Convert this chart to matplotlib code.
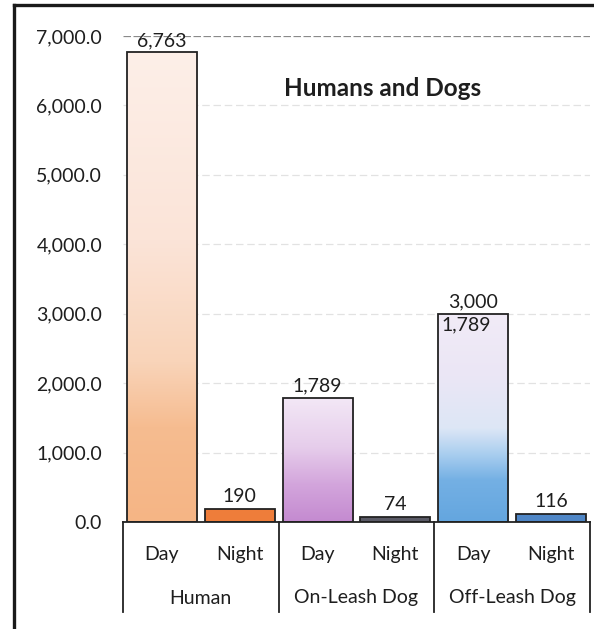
import numpy as np
import matplotlib
matplotlib.use("Agg")
import matplotlib.pyplot as plt
from matplotlib.colors import LinearSegmentedColormap
from matplotlib.lines import Line2D

plt.rcParams['font.family'] = ['Lato', 'DejaVu Sans']

# ---- data ----
groups = ["Human", "On-Leash Dog", "Off-Leash Dog"]
periods = ["Day", "Night"]
values = [6763, 190, 1789, 74, 3000, 116]
value_labels = ["6,763", "190", "1,789", "74", "3,000", "116"]
extra_label = "1,789"          # stray label printed inside the Off-Leash Day bar
title = "Humans and Dogs"
yticks = [0, 1000, 2000, 3000, 4000, 5000, 6000, 7000]

# ---- styles ----
night_colors = ["#ee7d3a", "#5a5a66", "#4f86c6"]
day_gradients = [
    [(0.0, "#f5b585"), (0.2, "#f6bc90"), (0.34, "#f9d4b9"), (0.6, "#fbe4d8"), (1.0, "#fdefe8")],
    [(0.0, "#c48ad0"), (0.3, "#d3a5dc"), (0.6, "#e6cdeb"), (1.0, "#f3e8f6")],
    [(0.0, "#64a6df"), (0.2, "#74b0e4"), (0.32, "#a8cdef"), (0.45, "#dde7f6"), (0.7, "#ebe6f5"), (1.0, "#f1ebf7")],
]
FS = 14
TXT = "#1e1e1e"

W, H = 594, 629
fig = plt.figure(figsize=(W / 100, H / 100), dpi=100)
fig.patch.set_facecolor("white")

ax_left, ax_right = 123, 590
ax_bottom, ax_top = 522, 36
ax = fig.add_axes([ax_left / W, 1 - ax_bottom / H, (ax_right - ax_left) / W, (ax_bottom - ax_top) / H])

x = np.arange(len(values))
colors = []
for g in range(len(groups)):
    colors += ["none", night_colors[g]]
bars = ax.bar(x, values, width=0.9, color=colors, edgecolor="#222222", linewidth=1.3, zorder=3)

# gradient fill for the Day bars
for g in range(len(groups)):
    b = bars[2 * g]
    cmap = LinearSegmentedColormap.from_list(f"g{g}", day_gradients[g])
    grad = np.linspace(0, 1, 256).reshape(-1, 1)
    x0, y0 = b.get_x(), b.get_y()
    im = ax.imshow(grad, cmap=cmap, origin="lower", aspect="auto",
                   extent=[x0, x0 + b.get_width(), y0, y0 + b.get_height()], zorder=2)
    im.set_clip_path(b)

ax.set_xlim(-0.5, len(values) - 0.5)
ax.set_ylim(0, 7000)

# gridlines
for yv in yticks[1:-1]:
    ax.axhline(yv, color="#e2e2e2", linewidth=0.9, linestyle=(0, (6, 3)), zorder=1)
ax.axhline(7000, color="#8a8a8a", linewidth=0.9, linestyle=(0, (6, 2)), zorder=1)

for s in ax.spines.values():
    s.set_visible(False)

ax.set_yticks(yticks)
ax.set_yticklabels([f"{v:,.1f}" for v in yticks], fontsize=FS, color=TXT)
ax.tick_params(axis="y", length=0, pad=15)
ax.set_xticks(x)
ax.set_xticklabels(periods * len(groups), fontsize=FS, color=TXT)
ax.tick_params(axis="x", length=0, pad=17)

# category box below axis
trans = ax.get_xaxis_transform()
box_depth = -(612 - 522) / (ax_bottom - ax_top)
ax.add_line(Line2D([-0.5, len(values) - 0.5], [0, 0], transform=trans, color="#222222",
                   linewidth=1.3, clip_on=False, zorder=4))
for xv in [-0.5, 1.5, 3.5, 5.5]:
    ax.add_line(Line2D([xv, xv], [0, box_depth], transform=trans, color="#222222",
                       linewidth=1.3, clip_on=False))
grp_y = -(598 - 522) / (ax_bottom - ax_top)
for g, name in enumerate(groups):
    ax.text(2 * g + 0.5, grp_y, name, transform=trans, ha="center", va="center",
            fontsize=FS, color=TXT)

# value labels
for xi, v, lab in zip(x, values, value_labels):
    ax.annotate(lab, (xi, v), xytext=(0, 2.5), textcoords="offset points",
                ha="center", va="bottom", fontsize=FS, color=TXT, zorder=5)
ax.annotate(extra_label, (bars[4].get_x(), values[4]), xytext=(2, -2), textcoords="offset points",
            ha="left", va="top", fontsize=FS, color=TXT, zorder=5)

ax.text(383 / W, 1 - 88 / H, title, transform=fig.transFigure, ha="center", va="center",
        fontsize=17.5, fontweight="bold", color=TXT)

# outer frame (left and top)
fig.add_artist(Line2D([14 / W, 14 / W], [0, 1 - 5 / H], transform=fig.transFigure,
                      color="#1a1a1a", linewidth=2.4))
fig.add_artist(Line2D([14 / W, 1], [1 - 5 / H, 1 - 5 / H], transform=fig.transFigure,
                      color="#1a1a1a", linewidth=2.4))

fig.savefig("out.png", dpi=100, facecolor="white")
